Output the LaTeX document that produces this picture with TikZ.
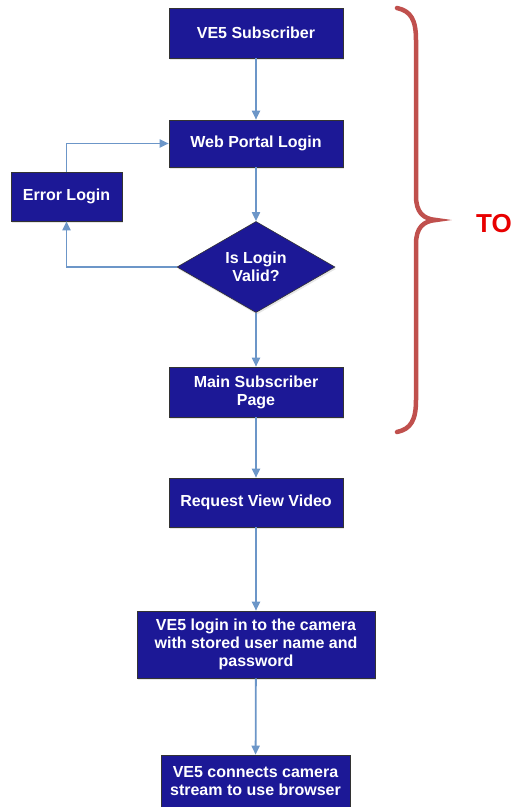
\documentclass[tikz,border=0pt]{standalone}
\usepackage{fontspec}
\setmainfont{Liberation Sans}
\usetikzlibrary{positioning,shapes.geometric,arrows.meta,shadows}

\definecolor{boxblue}{RGB}{28,24,150}
\definecolor{flowline}{RGB}{108,150,200}
\definecolor{bracered}{RGB}{192,80,77}
\definecolor{tored}{RGB}{232,0,0}

\begin{document}
\begin{tikzpicture}[x=1pt, y=-1pt, >={Triangle[length=9pt,width=8pt]},
  box/.style={draw=black!80, line width=0.6pt, fill=boxblue, text=white,
    font=\bfseries\fontsize{16}{18}\selectfont, align=center, inner sep=0pt,
    minimum width=174pt, minimum height=50pt,
    drop shadow={opacity=0.2, shadow xshift=1pt, shadow yshift=-2pt}},
  decision/.style={box, diamond, minimum width=158pt, minimum height=76pt},
  flow/.style={->, draw=flowline, line width=1.8pt}]
\useasboundingbox (0,0) rectangle (514,807);

% main column
\node [box] (sub) at (256,33) {VE5 Subscriber};
\node [box, minimum height=47pt] (web) at (256,143.5) {Web Portal Login};
\node [decision] (valid) at (256,267) {Is Login\\Valid?};
\node [box] (main) at (256,392) {Main Subscriber\\Page};
\node [box, minimum height=49pt] (request) at (256,502.5) {Request View Video};
\node [box, minimum width=238pt, minimum height=67pt] (camera) at (256,644.5)
  {VE5 login in to the camera\\with stored user name and\\password};
\node [box, minimum width=189pt, minimum height=52pt] (stream) at (255.5,781)
  {VE5 connects camera\\stream to use browser};

% side branch
\node [box, minimum width=111pt, minimum height=49pt] (error) at (66.5,196.5) {Error Login};

\foreach \a/\b in {sub/web, web/valid, valid/main, main/request, request/camera, camera/stream}
  \draw [flow] (\a) -- (\b);

\draw [flow] (valid.west) -| (error.south);
\draw [flow] (error.north) |- (web.west);

% brace
\draw [bracered, line width=4.5pt, line cap=round]
  (397,8) .. controls (411,11) and (416,20) .. (416,40) -- (416,196)
  .. controls (416,212) and (423,219) .. (436,220)
  .. controls (423,221) and (416,228) .. (416,244) -- (416,400)
  .. controls (416,420) and (411,429) .. (397,432);
\node [text=tored, font=\bfseries\fontsize{26}{30}\selectfont] (to) at (494,224) {TO};
\end{tikzpicture}
\end{document}
